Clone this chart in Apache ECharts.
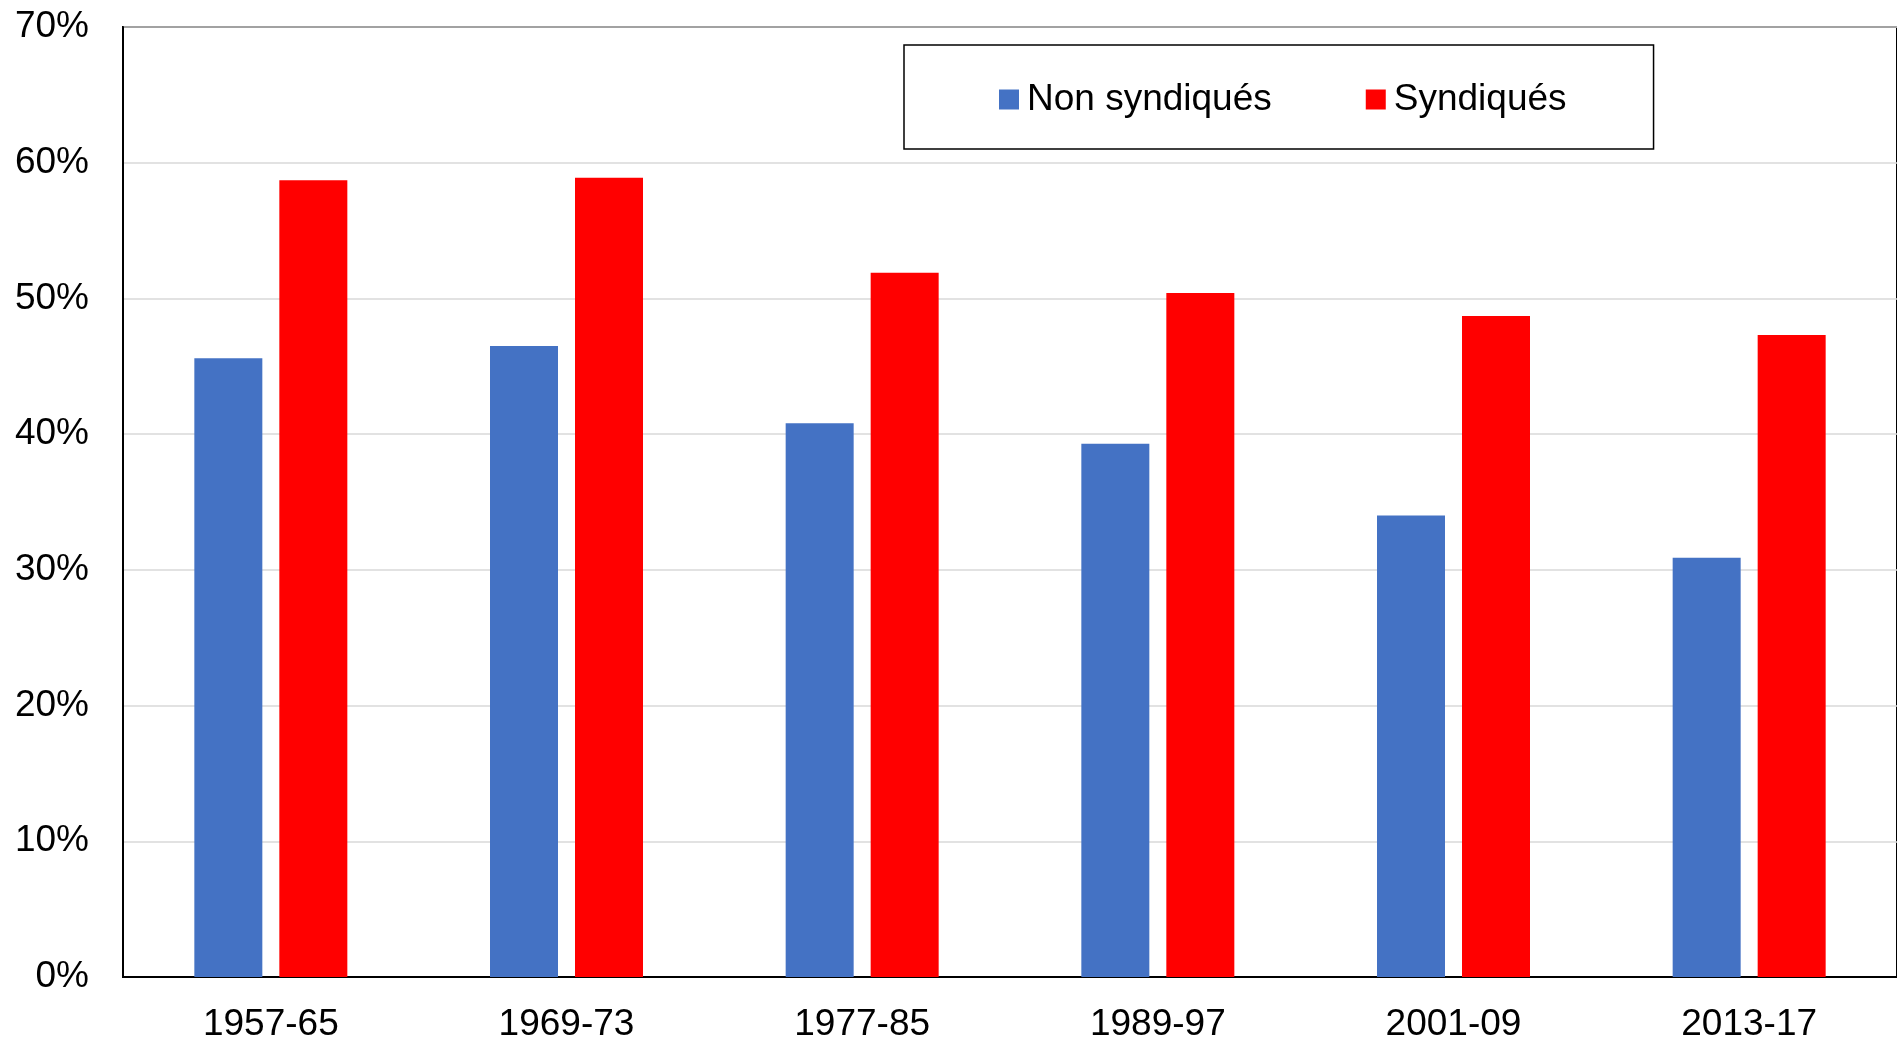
<!DOCTYPE html>
<html>
<head>
<meta charset="utf-8">
<script src="https://cdn.jsdelivr.net/npm/echarts@6/dist/echarts.min.js"></script>
<style>
  html, body { margin: 0; padding: 0; background: #fff; }
  #chart { width: 1897px; height: 1043px; }
</style>
</head>
<body>
<div id="chart"></div>
<script>
// periodes
const categories = ['1957-65', '1969-73', '1977-85', '1989-97', '2001-09', '2013-17'];
// parts en %
const nonSyndiques = [45.6, 46.5, 40.8, 39.3, 34.0, 30.9];
const syndiques = [58.7, 58.9, 51.9, 50.4, 48.7, 47.3];
const yTicks = [0, 10, 20, 30, 40, 50, 60, 70];

const myChart = echarts.init(document.getElementById('chart'));
const fontFamily = '"Liberation Sans", Arial, sans-serif';

myChart.setOption({
    animation: false,
    textStyle: { fontFamily: fontFamily },
    grid: {
        left: 123,
        top: 27,
        width: 1776,
        height: 952,
        show: true,
        borderColor: '#000',
        borderWidth: 2,
        backgroundColor: 'transparent'
    },
    legend: {
        left: 904,
        top: 45,
        orient: 'horizontal',
        padding: [36, 87, 31, 95],
        borderColor: '#000',
        borderWidth: 1.5,
        itemWidth: 20,
        itemHeight: 20,
        itemGap: 94,
        icon: 'rect',
        textStyle: {
            fontSize: 37,
            color: '#000',
            fontFamily: fontFamily,
            padding: [0, 0, 0, 3]
        },
        data: ['Non syndiqués', 'Syndiqués']
    },
    xAxis: {
        type: 'category',
        data: categories,
        axisTick: { show: false },
        axisLine: { lineStyle: { color: '#000', width: 2 } },
        axisLabel: { fontSize: 37, color: '#000', margin: 29, fontFamily: fontFamily }
    },
    yAxis: {
        type: 'value',
        min: yTicks[0],
        max: yTicks[yTicks.length - 1],
        interval: 10,
        axisLine: { show: true, lineStyle: { color: '#000', width: 2 } },
        axisTick: { show: false },
        splitLine: { lineStyle: { color: '#d9d9d9', width: 1.5 } },
        axisLabel: {
            fontSize: 37,
            color: '#000',
            margin: 34,
            padding: [5, 0, 0, 0],
            fontFamily: fontFamily,
            formatter: v => v + '%'
        }
    },
    series: [
        {
            name: 'Non syndiqués',
            type: 'bar',
            data: nonSyndiques,
            barWidth: 68,
            barGap: '25%',
            itemStyle: { color: '#4472C4' }
        },
        {
            name: 'Syndiqués',
            type: 'bar',
            data: syndiques,
            barWidth: 68,
            barGap: '25%',
            itemStyle: { color: '#FF0000' }
        }
    ]
});
</script>
</body>
</html>
